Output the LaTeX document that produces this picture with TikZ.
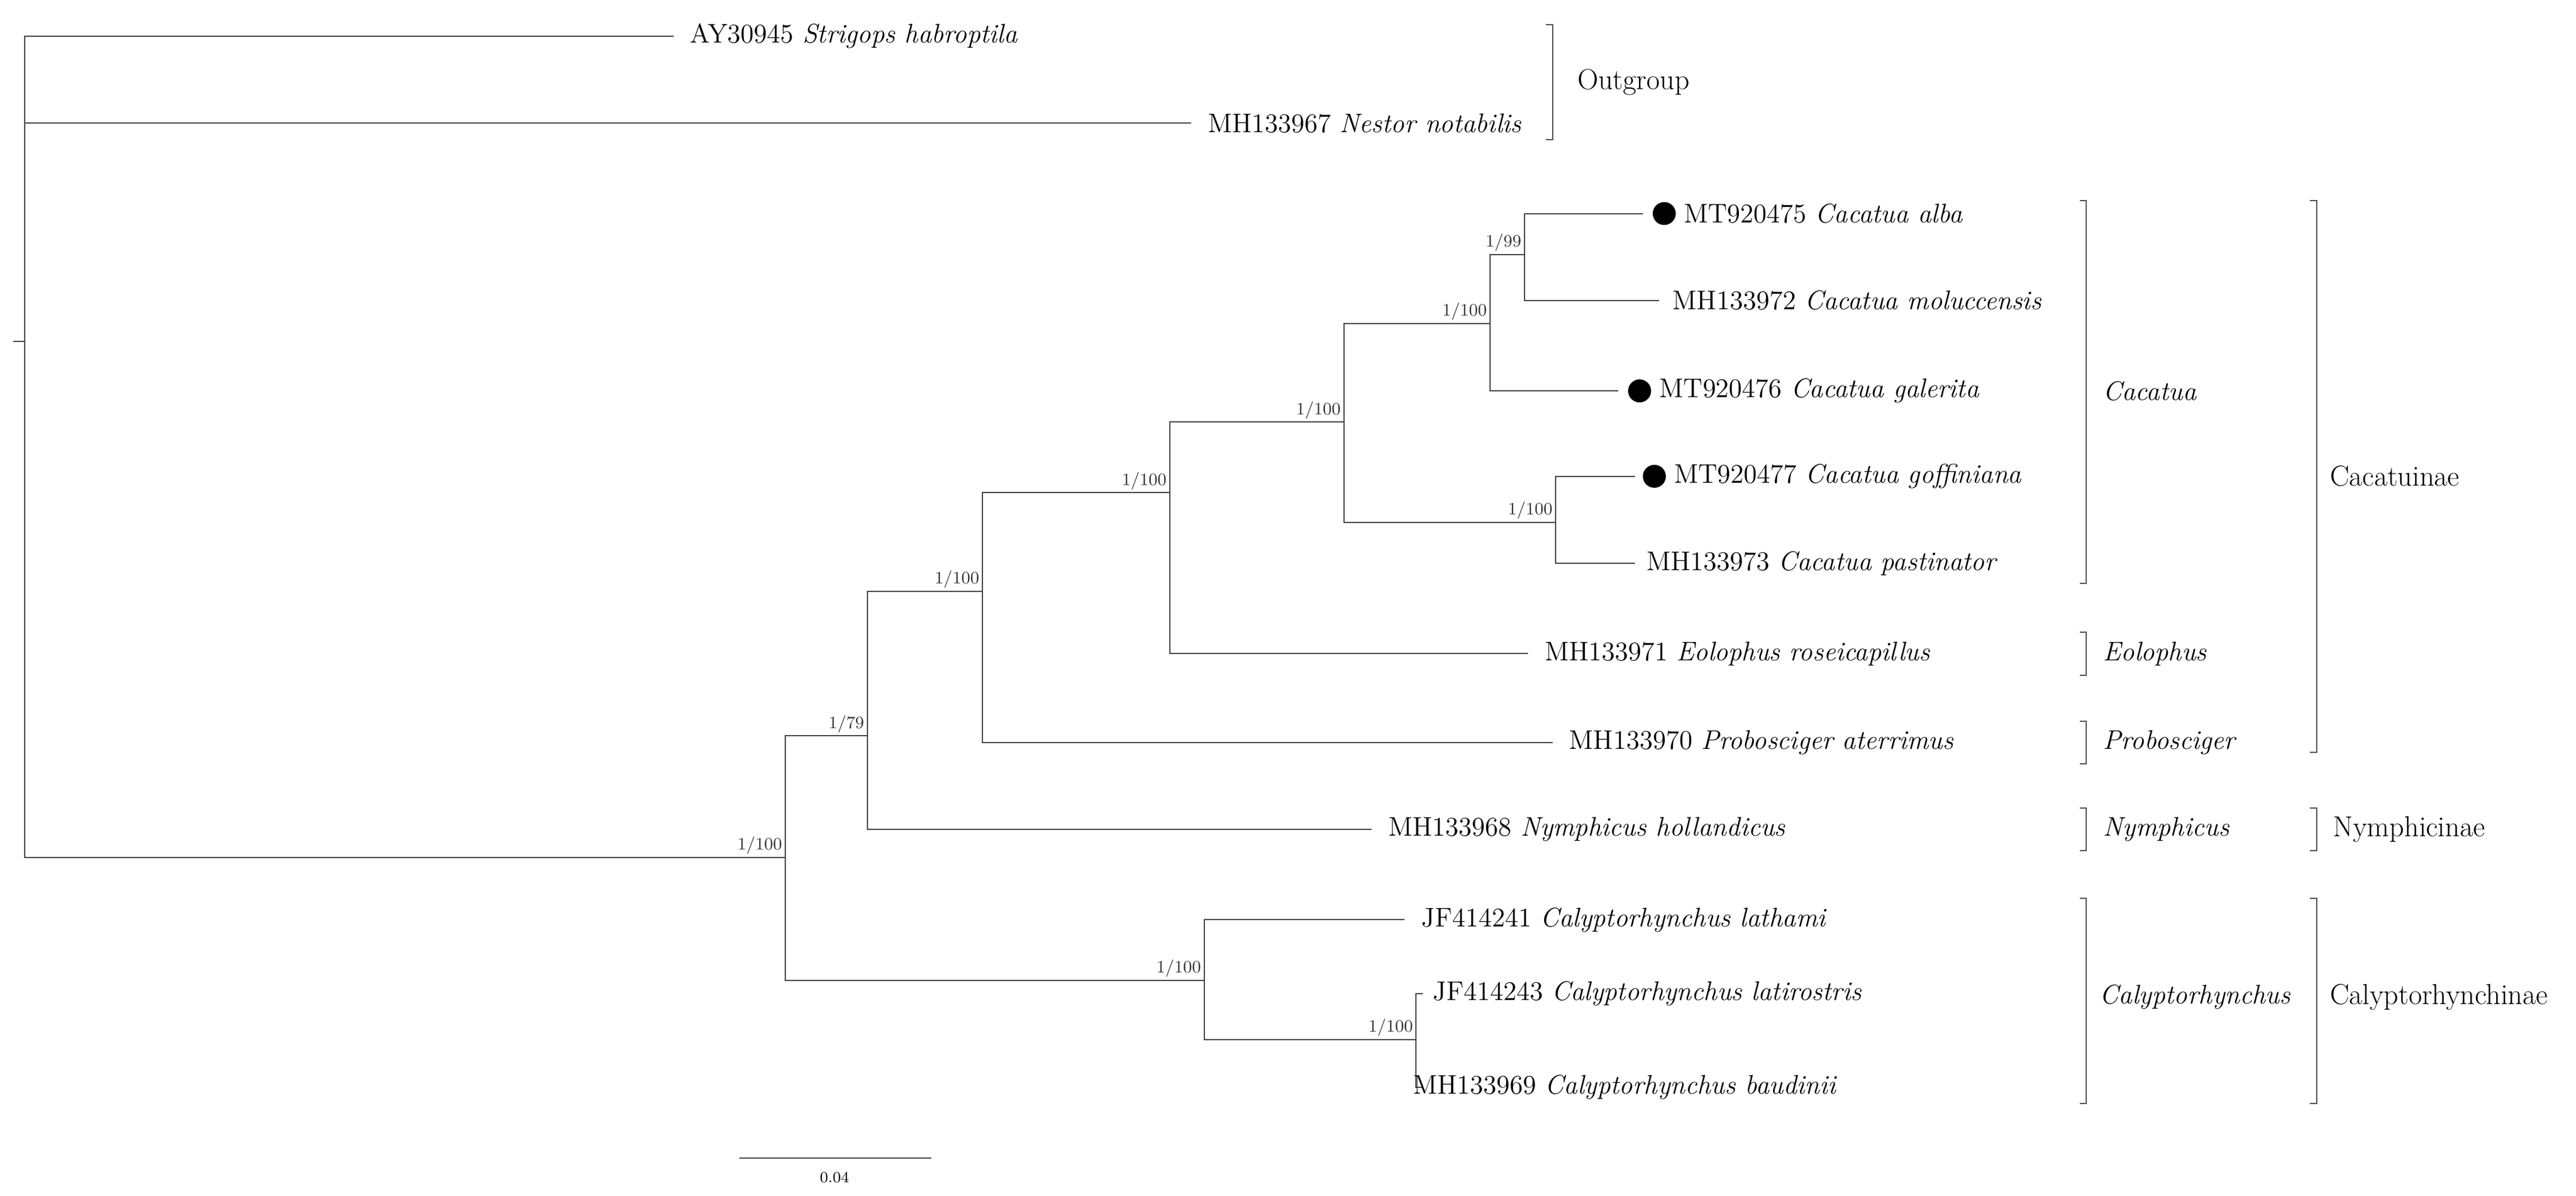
\documentclass[tikz,border=0pt]{standalone}
\usepackage{tikz}
\usetikzlibrary{positioning, calc}

\begin{document}
\begin{tikzpicture}[
  x=0.03cm, y=-0.03cm,
  branch/.style={draw=black!75, line width=0.6pt},
  tip/.style={anchor=west, inner sep=0pt, font=\fontsize{14}{16}\selectfont},
  support/.style={anchor=south east, inner sep=1.5pt, font=\fontsize{9}{10}\selectfont, text=black!80},
  clade/.style={anchor=west, inner sep=0pt, font=\fontsize{14}{16}\selectfont\itshape},
  group/.style={anchor=west, inner sep=0pt, font=\fontsize{15}{17}\selectfont},
  brack/.style={draw=black!70, line width=0.6pt},
  seqdot/.style={circle, fill=black, inner sep=0pt, minimum size=0.42cm},
]
\useasboundingbox (0,0) rectangle (1568,728);

% Internal nodes
\coordinate (root) at (15,272);
\coordinate (n478) at (478,522);
\coordinate (n528) at (528,448);
\coordinate (n598) at (598,360);
\coordinate (n712) at (712,300);
\coordinate (n818) at (818,257);
\coordinate (n907) at (907,197);
\coordinate (n928) at (928,155);
\coordinate (n947) at (947,318);
\coordinate (n733) at (733,597);
\coordinate (n862) at (862,633);

% Tips
\coordinate (strigops) at (410,22);
\coordinate (nestor) at (725,75);
\coordinate (alba) at (1000,130);
\coordinate (moluc) at (1010,183);
\coordinate (galer) at (985,238);
\coordinate (goffin) at (995,290);
\coordinate (pastin) at (995,343);
\coordinate (eolo) at (930,398);
\coordinate (probo) at (945,452);
\coordinate (nymph) at (835,505);
\coordinate (lathami) at (855,560);
\coordinate (latiro) at (866,605);
\coordinate (baud) at (866,662);

% Branches
\draw[branch] (8,208) -- (15,208);
\draw[branch] (strigops) -| (15,522) -- (n478);
\draw[branch] (nestor) -- (15,75);
\draw[branch] (n528) -| (n478) |- (n733);
\draw[branch] (n598) -| (n528) |- (nymph);
\draw[branch] (n712) -| (n598) |- (probo);
\draw[branch] (n818) -| (n712) |- (eolo);
\draw[branch] (n907) -| (n818) |- (n947);
\draw[branch] (n928) -| (n907) |- (galer);
\draw[branch] (alba) -| (n928) |- (moluc);
\draw[branch] (goffin) -| (n947) |- (pastin);
\draw[branch] (lathami) -| (n733) |- (n862);
\draw[branch] (latiro) -| (n862) |- (baud);

% Support values
\node[support] at (n478) {1/100};
\node[support] at (n528) {1/79};
\node[support] at (n598) {1/100};
\node[support] at (n712) {1/100};
\node[support] at (n818) {1/100};
\node[support] at (n907) {1/100};
\node[support] at (n928) {1/99};
\node[support] at (n947) {1/100};
\node[support] at (n733) {1/100};
\node[support] at (n862) {1/100};

% Tip labels
\node[tip] (lstrigops) at (420,22) {AY30945 \textit{Strigops habroptila}};
\node[tip] (lnestor) at (735,75) {MH133967 \textit{Nestor notabilis}};
\node[seqdot] (dalba) at (1013,130) {};
\node[tip, right=4pt of dalba] (lalba) {MT920475 \textit{Cacatua alba}};
\node[tip] (lmoluc) at (1018,183) {MH133972 \textit{Cacatua moluccensis}};
\node[seqdot] (dgaler) at (998,238) {};
\node[tip, right=4pt of dgaler] (lgaler) {MT920476 \textit{Cacatua galerita}};
\node[seqdot] (dgoffin) at (1007,290) {};
\node[tip, right=4pt of dgoffin] (lgoffin) {MT920477 \textit{Cacatua goffiniana}};
\node[tip] (lpastin) at (1002,343) {MH133973 \textit{Cacatua pastinator}};
\node[tip] (leolo) at (940,398) {MH133971 \textit{Eolophus roseicapillus}};
\node[tip] (lprobo) at (955,452) {MH133970 \textit{Probosciger aterrimus}};
\node[tip] (lnymph) at (845,505) {MH133968 \textit{Nymphicus hollandicus}};
\node[tip] (llathami) at (865,560) {JF414241 \textit{Calyptorhynchus lathami}};
\node[tip] (llatiro) at (872,605) {JF414243 \textit{Calyptorhynchus latirostris}};
\node[tip] (lbaud) at (860,662) {MH133969 \textit{Calyptorhynchus baudinii}};

% Brackets
\draw[brack] (941,15) -- (945,15) -- (945,85) -- (941,85);
\node[group] (outgroup) at (960,50) {Outgroup};
\draw[brack] (1266,122) -- (1270,122) -- (1270,355) -- (1266,355);
\node[clade] (cacatua) at (1280,238) {Cacatua};
\draw[brack] (1266,385) -- (1270,385) -- (1270,411) -- (1266,411);
\node[clade] (eolophus) at (1280,398) {Eolophus};
\draw[brack] (1266,439) -- (1270,439) -- (1270,465) -- (1266,465);
\node[clade] (probosciger) at (1280,452) {Probosciger};
\draw[brack] (1266,492) -- (1270,492) -- (1270,518) -- (1266,518);
\node[clade] (nymphicus) at (1280,505) {Nymphicus};
\draw[brack] (1266,547) -- (1270,547) -- (1270,672) -- (1266,672);
\node[clade] (calypto) at (1278,607) {Calyptorhynchus};
\draw[brack] (1406,122) -- (1410,122) -- (1410,458) -- (1406,458);
\node[group] (cacatuinae) at (1418,290) {Cacatuinae};
\draw[brack] (1406,492) -- (1410,492) -- (1410,518) -- (1406,518);
\node[group] (nymphicinae) at (1420,505) {Nymphicinae};
\draw[brack] (1406,547) -- (1410,547) -- (1410,672) -- (1406,672);
\node[group] (calyptoinae) at (1418,607) {Calyptorhynchinae};

% Scale bar
\coordinate (sbl) at (450,705);
\coordinate (sbr) at (567,705);
\draw[branch] (sbl) -- (sbr);
\node[font=\fontsize{8}{9}\selectfont] (sblabel) at (508,717) {0.04};
\end{tikzpicture}
\end{document}
